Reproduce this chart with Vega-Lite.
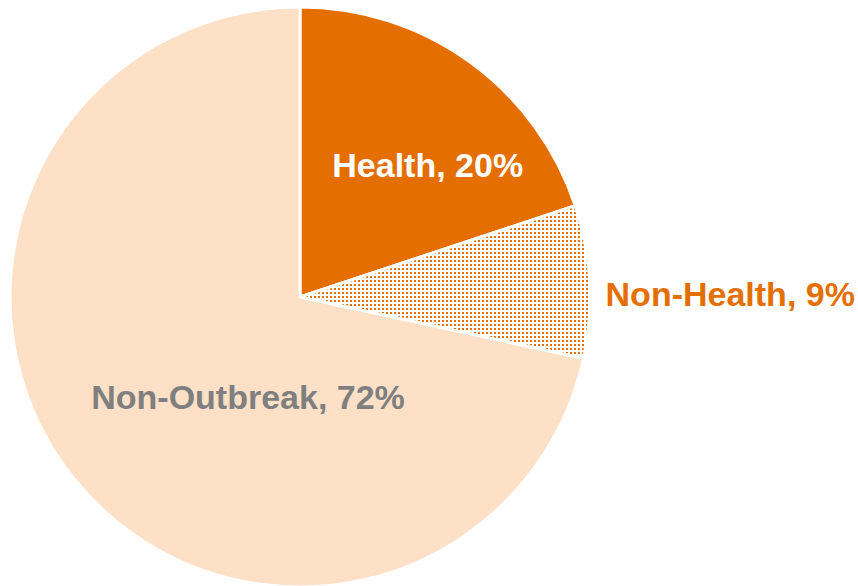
{
"$schema": "https://vega.github.io/schema/vega-lite/v6.json",
"width": 578, "height": 578,
"autosize": {"type": "none"},
"padding": {"left": 11, "top": 8, "right": 269, "bottom": 0},
"background": "white",
"config": {"view": {"stroke": null}},
"data": {"values": [
 {"category": "Health", "value": 19.9, "label": "Health, 20%"},
 {"category": "Non-Health", "value": 8.5, "label": "Non-Health, 9%"},
 {"category": "Non-Outbreak", "value": 71.6, "label": "Non-Outbreak, 72%"}
]},
"transform": [{"stack": "value", "groupby": [], "sort": [{"field": "category", "order": "ascending"}], "as": ["v0", "v1"]}],
"layer": [
 {"mark": {"type": "arc", "outerRadius": 290, "stroke": "white", "strokeWidth": 3},
  "encoding": {
   "theta": {"field": "v0", "type": "quantitative", "scale": {"domain": [0, 100]}},
   "theta2": {"field": "v1"},
   "color": {"field": "category", "type": "nominal", "scale": {"domain": ["Health", "Non-Health", "Non-Outbreak"], "range": ["#E46F00", "#E46F00", "#FDE0C6"]}, "legend": null}
  }},
 {"transform": [{"filter": "datum.category === 'Non-Health'"}],
  "mark": {"type": "arc", "outerRadius": 290, "fill": {"gradient": "linear", "x1": 0, "y1": 0, "x2": 1.1034, "y2": 0, "stops": [
{"offset":0,"color":"white"},{"offset":0.00625,"color":"white"},{"offset":0.00625,"color":"transparent"},{"offset":0.0125,"color":"transparent"},
{"offset":0.0125,"color":"white"},{"offset":0.01875,"color":"white"},{"offset":0.01875,"color":"transparent"},{"offset":0.025,"color":"transparent"},
{"offset":0.025,"color":"white"},{"offset":0.03125,"color":"white"},{"offset":0.03125,"color":"transparent"},{"offset":0.0375,"color":"transparent"},
{"offset":0.0375,"color":"white"},{"offset":0.04375,"color":"white"},{"offset":0.04375,"color":"transparent"},{"offset":0.05,"color":"transparent"},
{"offset":0.05,"color":"white"},{"offset":0.05625,"color":"white"},{"offset":0.05625,"color":"transparent"},{"offset":0.0625,"color":"transparent"},
{"offset":0.0625,"color":"white"},{"offset":0.06875,"color":"white"},{"offset":0.06875,"color":"transparent"},{"offset":0.075,"color":"transparent"},
{"offset":0.075,"color":"white"},{"offset":0.08125,"color":"white"},{"offset":0.08125,"color":"transparent"},{"offset":0.0875,"color":"transparent"},
{"offset":0.0875,"color":"white"},{"offset":0.09375,"color":"white"},{"offset":0.09375,"color":"transparent"},{"offset":0.1,"color":"transparent"},
{"offset":0.1,"color":"white"},{"offset":0.10625,"color":"white"},{"offset":0.10625,"color":"transparent"},{"offset":0.1125,"color":"transparent"},
{"offset":0.1125,"color":"white"},{"offset":0.11875,"color":"white"},{"offset":0.11875,"color":"transparent"},{"offset":0.125,"color":"transparent"},
{"offset":0.125,"color":"white"},{"offset":0.13125,"color":"white"},{"offset":0.13125,"color":"transparent"},{"offset":0.1375,"color":"transparent"},
{"offset":0.1375,"color":"white"},{"offset":0.14375,"color":"white"},{"offset":0.14375,"color":"transparent"},{"offset":0.15,"color":"transparent"},
{"offset":0.15,"color":"white"},{"offset":0.15625,"color":"white"},{"offset":0.15625,"color":"transparent"},{"offset":0.1625,"color":"transparent"},
{"offset":0.1625,"color":"white"},{"offset":0.16875,"color":"white"},{"offset":0.16875,"color":"transparent"},{"offset":0.175,"color":"transparent"},
{"offset":0.175,"color":"white"},{"offset":0.18125,"color":"white"},{"offset":0.18125,"color":"transparent"},{"offset":0.1875,"color":"transparent"},
{"offset":0.1875,"color":"white"},{"offset":0.19375,"color":"white"},{"offset":0.19375,"color":"transparent"},{"offset":0.2,"color":"transparent"},
{"offset":0.2,"color":"white"},{"offset":0.20625,"color":"white"},{"offset":0.20625,"color":"transparent"},{"offset":0.2125,"color":"transparent"},
{"offset":0.2125,"color":"white"},{"offset":0.21875,"color":"white"},{"offset":0.21875,"color":"transparent"},{"offset":0.225,"color":"transparent"},
{"offset":0.225,"color":"white"},{"offset":0.23125,"color":"white"},{"offset":0.23125,"color":"transparent"},{"offset":0.2375,"color":"transparent"},
{"offset":0.2375,"color":"white"},{"offset":0.24375,"color":"white"},{"offset":0.24375,"color":"transparent"},{"offset":0.25,"color":"transparent"},
{"offset":0.25,"color":"white"},{"offset":0.25625,"color":"white"},{"offset":0.25625,"color":"transparent"},{"offset":0.2625,"color":"transparent"},
{"offset":0.2625,"color":"white"},{"offset":0.26875,"color":"white"},{"offset":0.26875,"color":"transparent"},{"offset":0.275,"color":"transparent"},
{"offset":0.275,"color":"white"},{"offset":0.28125,"color":"white"},{"offset":0.28125,"color":"transparent"},{"offset":0.2875,"color":"transparent"},
{"offset":0.2875,"color":"white"},{"offset":0.29375,"color":"white"},{"offset":0.29375,"color":"transparent"},{"offset":0.3,"color":"transparent"},
{"offset":0.3,"color":"white"},{"offset":0.30625,"color":"white"},{"offset":0.30625,"color":"transparent"},{"offset":0.3125,"color":"transparent"},
{"offset":0.3125,"color":"white"},{"offset":0.31875,"color":"white"},{"offset":0.31875,"color":"transparent"},{"offset":0.325,"color":"transparent"},
{"offset":0.325,"color":"white"},{"offset":0.33125,"color":"white"},{"offset":0.33125,"color":"transparent"},{"offset":0.3375,"color":"transparent"},
{"offset":0.3375,"color":"white"},{"offset":0.34375,"color":"white"},{"offset":0.34375,"color":"transparent"},{"offset":0.35,"color":"transparent"},
{"offset":0.35,"color":"white"},{"offset":0.35625,"color":"white"},{"offset":0.35625,"color":"transparent"},{"offset":0.3625,"color":"transparent"},
{"offset":0.3625,"color":"white"},{"offset":0.36875,"color":"white"},{"offset":0.36875,"color":"transparent"},{"offset":0.375,"color":"transparent"},
{"offset":0.375,"color":"white"},{"offset":0.38125,"color":"white"},{"offset":0.38125,"color":"transparent"},{"offset":0.3875,"color":"transparent"},
{"offset":0.3875,"color":"white"},{"offset":0.39375,"color":"white"},{"offset":0.39375,"color":"transparent"},{"offset":0.4,"color":"transparent"},
{"offset":0.4,"color":"white"},{"offset":0.40625,"color":"white"},{"offset":0.40625,"color":"transparent"},{"offset":0.4125,"color":"transparent"},
{"offset":0.4125,"color":"white"},{"offset":0.41875,"color":"white"},{"offset":0.41875,"color":"transparent"},{"offset":0.425,"color":"transparent"},
{"offset":0.425,"color":"white"},{"offset":0.43125,"color":"white"},{"offset":0.43125,"color":"transparent"},{"offset":0.4375,"color":"transparent"},
{"offset":0.4375,"color":"white"},{"offset":0.44375,"color":"white"},{"offset":0.44375,"color":"transparent"},{"offset":0.45,"color":"transparent"},
{"offset":0.45,"color":"white"},{"offset":0.45625,"color":"white"},{"offset":0.45625,"color":"transparent"},{"offset":0.4625,"color":"transparent"},
{"offset":0.4625,"color":"white"},{"offset":0.46875,"color":"white"},{"offset":0.46875,"color":"transparent"},{"offset":0.475,"color":"transparent"},
{"offset":0.475,"color":"white"},{"offset":0.48125,"color":"white"},{"offset":0.48125,"color":"transparent"},{"offset":0.4875,"color":"transparent"},
{"offset":0.4875,"color":"white"},{"offset":0.49375,"color":"white"},{"offset":0.49375,"color":"transparent"},{"offset":0.5,"color":"transparent"},
{"offset":0.5,"color":"white"},{"offset":0.50625,"color":"white"},{"offset":0.50625,"color":"transparent"},{"offset":0.5125,"color":"transparent"},
{"offset":0.5125,"color":"white"},{"offset":0.51875,"color":"white"},{"offset":0.51875,"color":"transparent"},{"offset":0.525,"color":"transparent"},
{"offset":0.525,"color":"white"},{"offset":0.53125,"color":"white"},{"offset":0.53125,"color":"transparent"},{"offset":0.5375,"color":"transparent"},
{"offset":0.5375,"color":"white"},{"offset":0.54375,"color":"white"},{"offset":0.54375,"color":"transparent"},{"offset":0.55,"color":"transparent"},
{"offset":0.55,"color":"white"},{"offset":0.55625,"color":"white"},{"offset":0.55625,"color":"transparent"},{"offset":0.5625,"color":"transparent"},
{"offset":0.5625,"color":"white"},{"offset":0.56875,"color":"white"},{"offset":0.56875,"color":"transparent"},{"offset":0.575,"color":"transparent"},
{"offset":0.575,"color":"white"},{"offset":0.58125,"color":"white"},{"offset":0.58125,"color":"transparent"},{"offset":0.5875,"color":"transparent"},
{"offset":0.5875,"color":"white"},{"offset":0.59375,"color":"white"},{"offset":0.59375,"color":"transparent"},{"offset":0.6,"color":"transparent"},
{"offset":0.6,"color":"white"},{"offset":0.60625,"color":"white"},{"offset":0.60625,"color":"transparent"},{"offset":0.6125,"color":"transparent"},
{"offset":0.6125,"color":"white"},{"offset":0.61875,"color":"white"},{"offset":0.61875,"color":"transparent"},{"offset":0.625,"color":"transparent"},
{"offset":0.625,"color":"white"},{"offset":0.63125,"color":"white"},{"offset":0.63125,"color":"transparent"},{"offset":0.6375,"color":"transparent"},
{"offset":0.6375,"color":"white"},{"offset":0.64375,"color":"white"},{"offset":0.64375,"color":"transparent"},{"offset":0.65,"color":"transparent"},
{"offset":0.65,"color":"white"},{"offset":0.65625,"color":"white"},{"offset":0.65625,"color":"transparent"},{"offset":0.6625,"color":"transparent"},
{"offset":0.6625,"color":"white"},{"offset":0.66875,"color":"white"},{"offset":0.66875,"color":"transparent"},{"offset":0.675,"color":"transparent"},
{"offset":0.675,"color":"white"},{"offset":0.68125,"color":"white"},{"offset":0.68125,"color":"transparent"},{"offset":0.6875,"color":"transparent"},
{"offset":0.6875,"color":"white"},{"offset":0.69375,"color":"white"},{"offset":0.69375,"color":"transparent"},{"offset":0.7,"color":"transparent"},
{"offset":0.7,"color":"white"},{"offset":0.70625,"color":"white"},{"offset":0.70625,"color":"transparent"},{"offset":0.7125,"color":"transparent"},
{"offset":0.7125,"color":"white"},{"offset":0.71875,"color":"white"},{"offset":0.71875,"color":"transparent"},{"offset":0.725,"color":"transparent"},
{"offset":0.725,"color":"white"},{"offset":0.73125,"color":"white"},{"offset":0.73125,"color":"transparent"},{"offset":0.7375,"color":"transparent"},
{"offset":0.7375,"color":"white"},{"offset":0.74375,"color":"white"},{"offset":0.74375,"color":"transparent"},{"offset":0.75,"color":"transparent"},
{"offset":0.75,"color":"white"},{"offset":0.75625,"color":"white"},{"offset":0.75625,"color":"transparent"},{"offset":0.7625,"color":"transparent"},
{"offset":0.7625,"color":"white"},{"offset":0.76875,"color":"white"},{"offset":0.76875,"color":"transparent"},{"offset":0.775,"color":"transparent"},
{"offset":0.775,"color":"white"},{"offset":0.78125,"color":"white"},{"offset":0.78125,"color":"transparent"},{"offset":0.7875,"color":"transparent"},
{"offset":0.7875,"color":"white"},{"offset":0.79375,"color":"white"},{"offset":0.79375,"color":"transparent"},{"offset":0.8,"color":"transparent"},
{"offset":0.8,"color":"white"},{"offset":0.80625,"color":"white"},{"offset":0.80625,"color":"transparent"},{"offset":0.8125,"color":"transparent"},
{"offset":0.8125,"color":"white"},{"offset":0.81875,"color":"white"},{"offset":0.81875,"color":"transparent"},{"offset":0.825,"color":"transparent"},
{"offset":0.825,"color":"white"},{"offset":0.83125,"color":"white"},{"offset":0.83125,"color":"transparent"},{"offset":0.8375,"color":"transparent"},
{"offset":0.8375,"color":"white"},{"offset":0.84375,"color":"white"},{"offset":0.84375,"color":"transparent"},{"offset":0.85,"color":"transparent"},
{"offset":0.85,"color":"white"},{"offset":0.85625,"color":"white"},{"offset":0.85625,"color":"transparent"},{"offset":0.8625,"color":"transparent"},
{"offset":0.8625,"color":"white"},{"offset":0.86875,"color":"white"},{"offset":0.86875,"color":"transparent"},{"offset":0.875,"color":"transparent"},
{"offset":0.875,"color":"white"},{"offset":0.88125,"color":"white"},{"offset":0.88125,"color":"transparent"},{"offset":0.8875,"color":"transparent"},
{"offset":0.8875,"color":"white"},{"offset":0.89375,"color":"white"},{"offset":0.89375,"color":"transparent"},{"offset":0.9,"color":"transparent"},
{"offset":0.9,"color":"white"},{"offset":0.90625,"color":"white"},{"offset":0.90625,"color":"transparent"},{"offset":0.9125,"color":"transparent"}
  ]}},
  "encoding": {
   "theta": {"field": "v0", "type": "quantitative", "scale": {"domain": [0, 100]}},
   "theta2": {"field": "v1"}
  }},
 {"transform": [{"filter": "datum.category === 'Non-Health'"}],
  "mark": {"type": "arc", "outerRadius": 290, "fill": {"gradient": "linear", "x1": 0, "y1": 0, "x2": 0, "y2": 2.093, "stops": [
{"offset":0,"color":"white"},{"offset":0.00625,"color":"white"},{"offset":0.00625,"color":"transparent"},{"offset":0.0125,"color":"transparent"},
{"offset":0.0125,"color":"white"},{"offset":0.01875,"color":"white"},{"offset":0.01875,"color":"transparent"},{"offset":0.025,"color":"transparent"},
{"offset":0.025,"color":"white"},{"offset":0.03125,"color":"white"},{"offset":0.03125,"color":"transparent"},{"offset":0.0375,"color":"transparent"},
{"offset":0.0375,"color":"white"},{"offset":0.04375,"color":"white"},{"offset":0.04375,"color":"transparent"},{"offset":0.05,"color":"transparent"},
{"offset":0.05,"color":"white"},{"offset":0.05625,"color":"white"},{"offset":0.05625,"color":"transparent"},{"offset":0.0625,"color":"transparent"},
{"offset":0.0625,"color":"white"},{"offset":0.06875,"color":"white"},{"offset":0.06875,"color":"transparent"},{"offset":0.075,"color":"transparent"},
{"offset":0.075,"color":"white"},{"offset":0.08125,"color":"white"},{"offset":0.08125,"color":"transparent"},{"offset":0.0875,"color":"transparent"},
{"offset":0.0875,"color":"white"},{"offset":0.09375,"color":"white"},{"offset":0.09375,"color":"transparent"},{"offset":0.1,"color":"transparent"},
{"offset":0.1,"color":"white"},{"offset":0.10625,"color":"white"},{"offset":0.10625,"color":"transparent"},{"offset":0.1125,"color":"transparent"},
{"offset":0.1125,"color":"white"},{"offset":0.11875,"color":"white"},{"offset":0.11875,"color":"transparent"},{"offset":0.125,"color":"transparent"},
{"offset":0.125,"color":"white"},{"offset":0.13125,"color":"white"},{"offset":0.13125,"color":"transparent"},{"offset":0.1375,"color":"transparent"},
{"offset":0.1375,"color":"white"},{"offset":0.14375,"color":"white"},{"offset":0.14375,"color":"transparent"},{"offset":0.15,"color":"transparent"},
{"offset":0.15,"color":"white"},{"offset":0.15625,"color":"white"},{"offset":0.15625,"color":"transparent"},{"offset":0.1625,"color":"transparent"},
{"offset":0.1625,"color":"white"},{"offset":0.16875,"color":"white"},{"offset":0.16875,"color":"transparent"},{"offset":0.175,"color":"transparent"},
{"offset":0.175,"color":"white"},{"offset":0.18125,"color":"white"},{"offset":0.18125,"color":"transparent"},{"offset":0.1875,"color":"transparent"},
{"offset":0.1875,"color":"white"},{"offset":0.19375,"color":"white"},{"offset":0.19375,"color":"transparent"},{"offset":0.2,"color":"transparent"},
{"offset":0.2,"color":"white"},{"offset":0.20625,"color":"white"},{"offset":0.20625,"color":"transparent"},{"offset":0.2125,"color":"transparent"},
{"offset":0.2125,"color":"white"},{"offset":0.21875,"color":"white"},{"offset":0.21875,"color":"transparent"},{"offset":0.225,"color":"transparent"},
{"offset":0.225,"color":"white"},{"offset":0.23125,"color":"white"},{"offset":0.23125,"color":"transparent"},{"offset":0.2375,"color":"transparent"},
{"offset":0.2375,"color":"white"},{"offset":0.24375,"color":"white"},{"offset":0.24375,"color":"transparent"},{"offset":0.25,"color":"transparent"},
{"offset":0.25,"color":"white"},{"offset":0.25625,"color":"white"},{"offset":0.25625,"color":"transparent"},{"offset":0.2625,"color":"transparent"},
{"offset":0.2625,"color":"white"},{"offset":0.26875,"color":"white"},{"offset":0.26875,"color":"transparent"},{"offset":0.275,"color":"transparent"},
{"offset":0.275,"color":"white"},{"offset":0.28125,"color":"white"},{"offset":0.28125,"color":"transparent"},{"offset":0.2875,"color":"transparent"},
{"offset":0.2875,"color":"white"},{"offset":0.29375,"color":"white"},{"offset":0.29375,"color":"transparent"},{"offset":0.3,"color":"transparent"},
{"offset":0.3,"color":"white"},{"offset":0.30625,"color":"white"},{"offset":0.30625,"color":"transparent"},{"offset":0.3125,"color":"transparent"},
{"offset":0.3125,"color":"white"},{"offset":0.31875,"color":"white"},{"offset":0.31875,"color":"transparent"},{"offset":0.325,"color":"transparent"},
{"offset":0.325,"color":"white"},{"offset":0.33125,"color":"white"},{"offset":0.33125,"color":"transparent"},{"offset":0.3375,"color":"transparent"},
{"offset":0.3375,"color":"white"},{"offset":0.34375,"color":"white"},{"offset":0.34375,"color":"transparent"},{"offset":0.35,"color":"transparent"},
{"offset":0.35,"color":"white"},{"offset":0.35625,"color":"white"},{"offset":0.35625,"color":"transparent"},{"offset":0.3625,"color":"transparent"},
{"offset":0.3625,"color":"white"},{"offset":0.36875,"color":"white"},{"offset":0.36875,"color":"transparent"},{"offset":0.375,"color":"transparent"},
{"offset":0.375,"color":"white"},{"offset":0.38125,"color":"white"},{"offset":0.38125,"color":"transparent"},{"offset":0.3875,"color":"transparent"},
{"offset":0.3875,"color":"white"},{"offset":0.39375,"color":"white"},{"offset":0.39375,"color":"transparent"},{"offset":0.4,"color":"transparent"},
{"offset":0.4,"color":"white"},{"offset":0.40625,"color":"white"},{"offset":0.40625,"color":"transparent"},{"offset":0.4125,"color":"transparent"},
{"offset":0.4125,"color":"white"},{"offset":0.41875,"color":"white"},{"offset":0.41875,"color":"transparent"},{"offset":0.425,"color":"transparent"},
{"offset":0.425,"color":"white"},{"offset":0.43125,"color":"white"},{"offset":0.43125,"color":"transparent"},{"offset":0.4375,"color":"transparent"},
{"offset":0.4375,"color":"white"},{"offset":0.44375,"color":"white"},{"offset":0.44375,"color":"transparent"},{"offset":0.45,"color":"transparent"},
{"offset":0.45,"color":"white"},{"offset":0.45625,"color":"white"},{"offset":0.45625,"color":"transparent"},{"offset":0.4625,"color":"transparent"},
{"offset":0.4625,"color":"white"},{"offset":0.46875,"color":"white"},{"offset":0.46875,"color":"transparent"},{"offset":0.475,"color":"transparent"},
{"offset":0.475,"color":"white"},{"offset":0.48125,"color":"white"},{"offset":0.48125,"color":"transparent"},{"offset":0.4875,"color":"transparent"}
  ]}},
  "encoding": {
   "theta": {"field": "v0", "type": "quantitative", "scale": {"domain": [0, 100]}},
   "theta2": {"field": "v1"}
  }},
 {"mark": {"type": "text", "radius": 184, "dx": 20, "dy": 29, "align": "center", "baseline": "alphabetic", "font": "Liberation Sans", "fontWeight": "bold", "fontSize": 34, "fill": "white"},
  "encoding": {
   "theta": {"field": "value", "type": "quantitative", "stack": true, "scale": {"domain": [0, 100]}},
   "order": {"field": "category", "type": "ordinal", "sort": "ascending"},
   "text": {"condition": {"test": "datum.category === 'Health'", "field": "label"}, "value": ""}
  }},
 {"mark": {"type": "text", "radius": 308, "dx": -2, "dy": 25, "align": "left", "baseline": "alphabetic", "font": "Liberation Sans", "fontWeight": "bold", "fontSize": 34, "fill": "#E46F00"},
  "encoding": {
   "theta": {"field": "value", "type": "quantitative", "stack": true, "scale": {"domain": [0, 100]}},
   "order": {"field": "category", "type": "ordinal", "sort": "ascending"},
   "text": {"condition": {"test": "datum.category === 'Non-Health'", "field": "label"}, "value": ""}
  }},
 {"mark": {"type": "text", "radius": 113, "dx": 36, "dy": 41, "align": "center", "baseline": "alphabetic", "font": "Liberation Sans", "fontWeight": "bold", "fontSize": 34, "fill": "#7F7F7F"},
  "encoding": {
   "theta": {"field": "value", "type": "quantitative", "stack": true, "scale": {"domain": [0, 100]}},
   "order": {"field": "category", "type": "ordinal", "sort": "ascending"},
   "text": {"condition": {"test": "datum.category === 'Non-Outbreak'", "field": "label"}, "value": ""}
  }}
]
}
